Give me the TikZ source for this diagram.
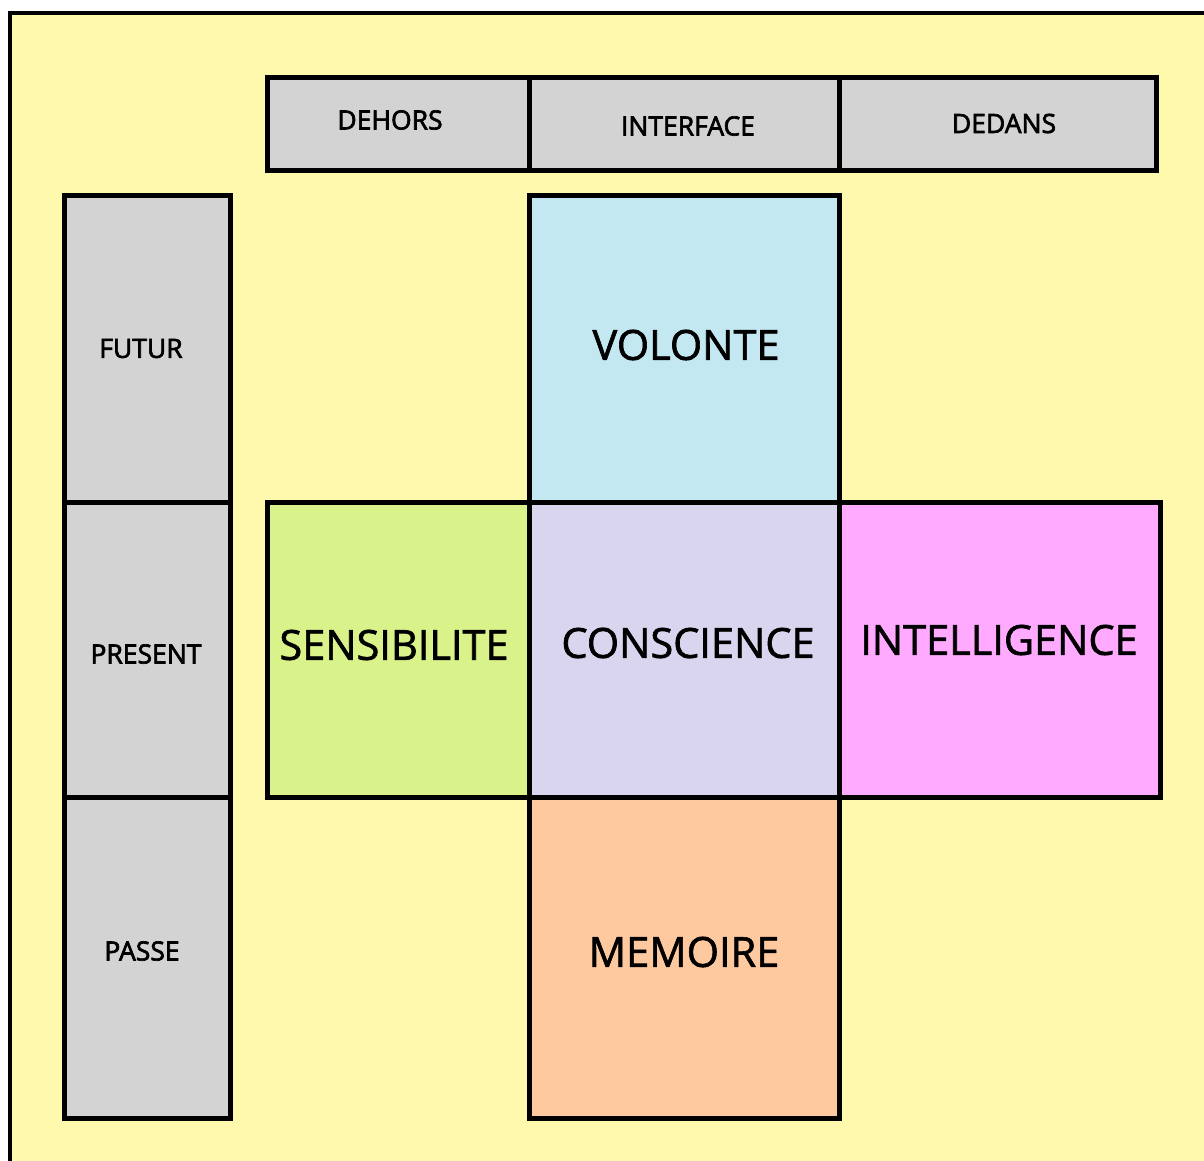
\documentclass[tikz,border=0pt]{standalone}
\usepackage{fontspec}
\setmainfont{Open Sans}
\newfontfamily\semib[FakeBold=2.5]{Open Sans}
\newfontfamily\medf[FakeBold=1.5]{Open Sans}
\definecolor{bgyellow}{RGB}{255,249,173}
\definecolor{cellgray}{RGB}{211,211,211}
\definecolor{volblue}{RGB}{195,232,242}
\definecolor{sensgreen}{RGB}{217,242,138}
\definecolor{conslav}{RGB}{217,213,238}
\definecolor{intpink}{RGB}{255,170,255}
\definecolor{mempeach}{RGB}{255,201,160}
\tikzset{
  cell/.style={draw=black, line width=5pt, rectangle, inner sep=0pt, outer sep=0pt},
  small/.style={font=\fontsize{26.5}{30}\selectfont\semib},
  big/.style={font=\fontsize{41.5}{46}\selectfont\medf},
}
\begin{document}
\begin{tikzpicture}[x=1pt,y=-1pt]
\useasboundingbox (0,0) rectangle (1204,1160);
\fill[white] (0,0) rectangle (1204,1160);
\draw[fill=bgyellow, line width=4pt] (10,13) rectangle (1230,1190);
% header row
\node[cell, fill=cellgray, minimum width=262pt, minimum height=93pt,
  label={[small, shift={(-8,-3.5)}]center:DEHORS}] (dehors) at (398,123.5) {};
\node[cell, fill=cellgray, minimum width=310pt, minimum height=93pt,
  label={[small, shift={(4,2.5)}]center:INTERFACE}] (interface) at (684,123.5) {};
\node[cell, fill=cellgray, minimum width=317pt, minimum height=93pt,
  label={[small, shift={(6.5,0)}]center:DEDANS}] (dedans) at (997.5,123.5) {};
% left column
\node[cell, fill=cellgray, minimum width=166pt, minimum height=307pt,
  label={[small, shift={(-6,0)}]center:FUTUR}] (futur) at (147,348.5) {};
\node[cell, fill=cellgray, minimum width=166pt, minimum height=295pt,
  label={[small, shift={(-1,4.5)}]center:PRESENT}] (present) at (147,649.5) {};
\node[cell, fill=cellgray, minimum width=166pt, minimum height=321pt,
  label={[small, shift={(-5,-6.5)}]center:PASSE}] (passe) at (147,957.5) {};
% cross
\node[cell, fill=volblue, minimum width=310pt, minimum height=307pt,
  label={[big, shift={(2,-3.5)}]center:VOLONTE}] (volonte) at (684,348.5) {};
\node[cell, fill=sensgreen, minimum width=262pt, minimum height=295pt,
  label={[big, shift={(-4,-4.5)}]center:SENSIBILITE}] (sensibilite) at (398,649.5) {};
\node[cell, fill=conslav, minimum width=310pt, minimum height=295pt,
  label={[big, shift={(4,-6.5)}]center:CONSCIENCE}] (conscience) at (684,649.5) {};
\node[cell, fill=intpink, minimum width=321pt, minimum height=295pt,
  label={[big, shift={(-0.5,-9.5)}]center:INTELLIGENCE}] (intelligence) at (999.5,649.5) {};
\node[cell, fill=mempeach, minimum width=310pt, minimum height=321pt,
  label={[big, shift={(0,-5.5)}]center:MEMOIRE}] (memoire) at (684,957.5) {};
% redraw shared edges on top
\draw[line width=5pt] (sensibilite.north west) -- (intelligence.north east);
\draw[line width=5pt] (sensibilite.south west) -- (intelligence.south east);
\draw[line width=5pt] (volonte.north west) -- (memoire.south west);
\draw[line width=5pt] (volonte.north east) -- (memoire.south east);
\end{tikzpicture}
\end{document}
